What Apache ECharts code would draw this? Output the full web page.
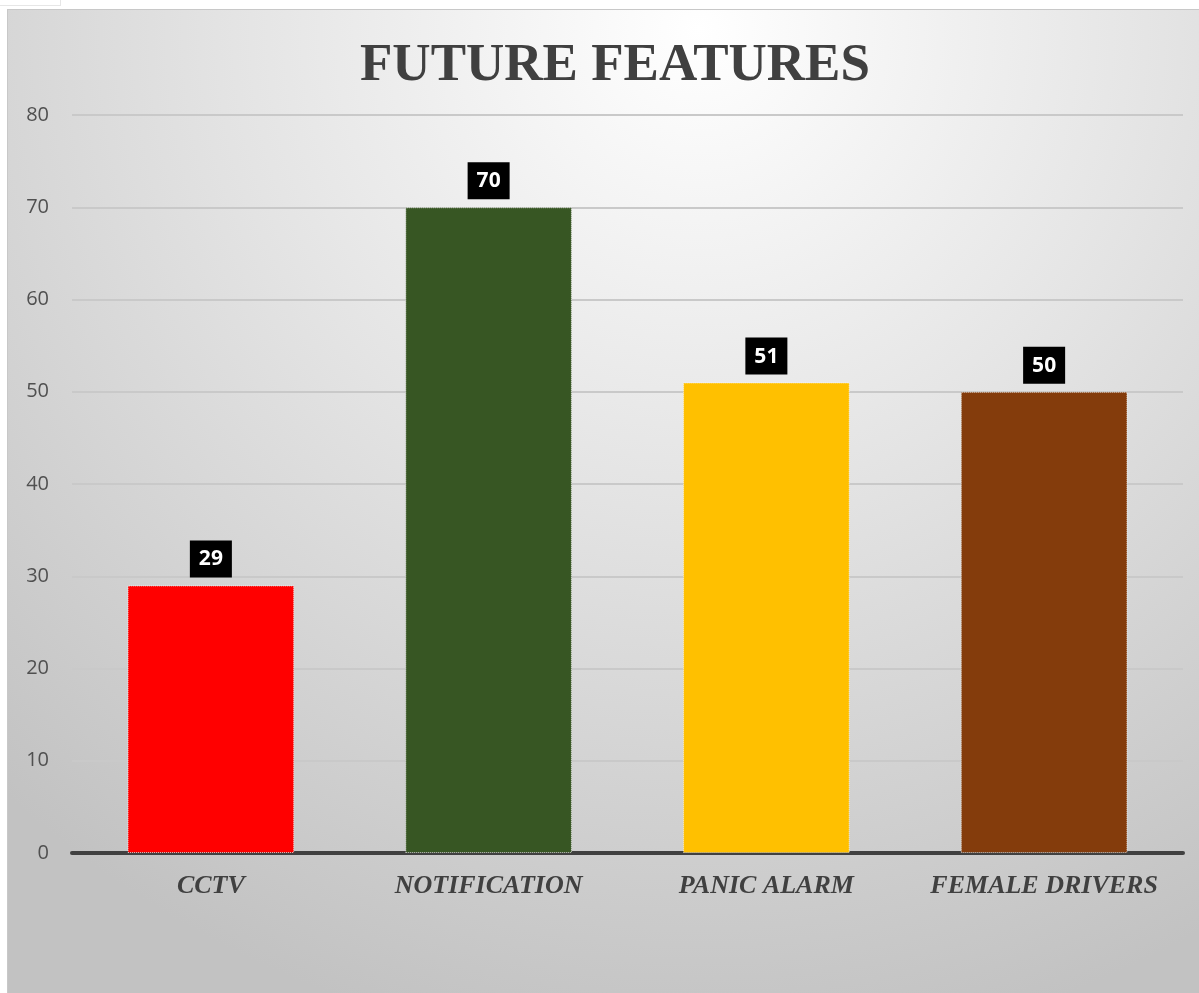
<!DOCTYPE html>
<html>
<head>
<meta charset="utf-8">
<script src="https://cdn.jsdelivr.net/npm/echarts@6/dist/echarts.min.js"></script>
<style>
  html, body { margin: 0; padding: 0; background: #fff; }
  #corner {
    position: absolute; left: 0; top: 0; width: 60px; height: 5px;
    border-right: 1px solid #e6e6e6; border-bottom: 1px solid #e6e6e6;
  }
  #chart {
    position: absolute; left: 7px; top: 9px; width: 1192px; height: 984px;
    border-left: 1px solid #c8c8c8; border-top: 1px solid #c8c8c8;
    box-sizing: border-box;
  }
</style>
</head>
<body>
<div id="corner"></div>
<div id="chart"></div>
<script>
// data
const categories = ['CCTV', 'NOTIFICATION', 'PANIC ALARM', 'FEMALE DRIVERS'];
const values = [29, 70, 51, 50];
const barColors = ['#ff0000', '#375623', '#ffc000', '#843c0c'];
const yTicks = { min: 0, max: 80, interval: 10 };

const myChart = echarts.init(document.getElementById('chart'));

const option = {
  backgroundColor: {
    type: 'radial', x: 0.58, y: 0.02, r: 1.05,
    colorStops: [
      { offset: 0, color: '#ffffff' },
      { offset: 0.45, color: '#e4e4e4' },
      { offset: 1, color: '#c2c2c2' }
    ]
  },
  title: {
    text: 'FUTURE FEATURES',
    left: 347,
    top: 25,
    textStyle: {
      fontFamily: '"Liberation Serif", "DejaVu Serif", serif',
      fontWeight: 'bold',
      fontSize: 53,
      color: '#404040'
    }
  },
  grid: { left: 64, right: 16, top: 105, bottom: 140 },
  xAxis: {
    type: 'category',
    data: categories,
    axisLine: { lineStyle: { color: '#404040', width: 4 } },
    axisTick: { show: false },
    axisLabel: {
      interval: 0,
      margin: 20,
      fontFamily: '"Liberation Serif", serif',
      fontStyle: 'italic',
      fontWeight: 'bold',
      fontSize: 26,
      color: '#404040'
    }
  },
  yAxis: {
    type: 'value',
    min: yTicks.min,
    max: yTicks.max,
    interval: yTicks.interval,
    axisLine: { show: false },
    axisTick: { show: false },
    splitLine: { lineStyle: { color: '#c9c9c9', width: 2 } },
    axisLabel: {
      margin: 23,
      fontFamily: '"Open Sans", sans-serif',
      fontSize: 20,
      color: '#505050'
    }
  },
  series: [{
    type: 'bar',
    barWidth: '60%',
    data: values.map((v, i) => ({
      value: v,
      itemStyle: { color: barColors[i] }
    })),
    itemStyle: {
      borderColor: 'rgba(255,255,255,0.7)',
      borderWidth: 1,
      borderType: 'dotted'
    },
    label: {
      show: true,
      position: 'top',
      distance: 8,
      backgroundColor: '#000',
      color: '#fff',
      fontFamily: '"Open Sans", sans-serif',
      fontWeight: 'bold',
      fontSize: 21,
      lineHeight: 24,
      padding: [7, 9, 6, 9]
    }
  }]
};

myChart.setOption(option);
</script>
</body>
</html>
